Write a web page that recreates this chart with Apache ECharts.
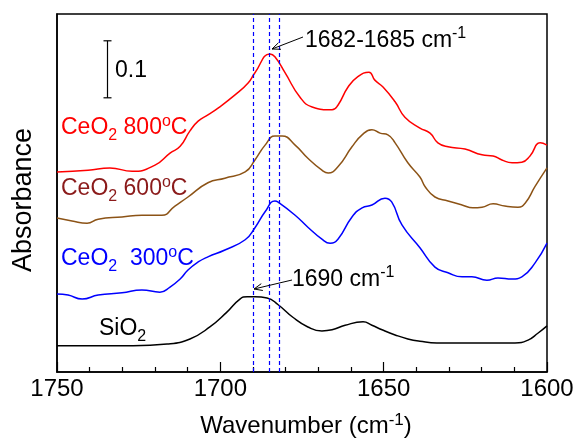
<!DOCTYPE html>
<html><head><meta charset="utf-8">
<script src="https://cdn.jsdelivr.net/npm/echarts@6/dist/echarts.min.js"></script>
<style>html,body{margin:0;padding:0;background:#fff}#c{width:582px;height:444px}</style>
</head><body><div id="c"></div>
<script>
// ---- data (wavenumber in cm-1, absorbance in a.u.) ----
const wn800 = [1750,1740.5,1733.8,1727,1720,1715.4,1712.3,1709.3,1706.8,1703.8,1700.7,1695.5,1691.5,1689.4,1684.8,1683.3,1680.2,1675.6,1671.9,1665.8,1664,1660.9,1657.9,1654.5,1652.7,1650.2,1646.5,1643.5,1638.9,1635.8,1633.4,1630.3,1625.1,1619.9,1616.5,1613.8,1610.7,1607.7,1605.2,1602.1,1600];
const ab800 = [0.351,0.354,0.358,0.352,0.363,0.384,0.396,0.423,0.440,0.451,0.463,0.486,0.507,0.525,0.558,0.553,0.525,0.482,0.465,0.46,0.468,0.5,0.518,0.526,0.512,0.5,0.474,0.447,0.428,0.419,0.402,0.395,0.391,0.381,0.379,0.372,0.367,0.368,0.379,0.402,0.398];
const wn600 = [1750,1745.4,1740.8,1737.4,1730.1,1724,1717.9,1713.9,1709.9,1703.8,1698.6,1692.4,1689.4,1686.3,1683.3,1681.1,1677.1,1673.2,1668.9,1667,1664,1659.7,1656.6,1653.6,1651.1,1648.7,1646.5,1642.6,1638.9,1637.3,1634.3,1630.3,1626,1622.7,1619.9,1616.5,1612.9,1608.9,1606.7,1603.7,1600];
const ab600 = [0.27,0.265,0.261,0.268,0.272,0.275,0.275,0.291,0.307,0.332,0.34,0.351,0.372,0.398,0.414,0.414,0.398,0.375,0.354,0.349,0.36,0.395,0.416,0.425,0.419,0.416,0.402,0.367,0.342,0.325,0.307,0.3,0.293,0.288,0.289,0.295,0.291,0.289,0.296,0.325,0.358];
const wn300 = [1750,1746.6,1742.3,1737.4,1730.1,1724,1718.5,1715.4,1712.3,1709.9,1706.8,1703.8,1698.6,1692.4,1689.4,1686.3,1683.3,1682.3,1677.1,1673.2,1668.9,1666.4,1664,1659.7,1656.6,1653.6,1649.6,1647.5,1644.4,1638.9,1634.3,1630.3,1626,1623,1618.4,1615,1610.7,1607.7,1603.7,1600];
const ab300 = [0.137,0.135,0.128,0.135,0.139,0.144,0.14,0.149,0.163,0.179,0.193,0.202,0.214,0.232,0.253,0.281,0.3,0.298,0.275,0.254,0.233,0.226,0.233,0.272,0.288,0.293,0.305,0.298,0.258,0.218,0.184,0.174,0.167,0.167,0.161,0.165,0.163,0.167,0.191,0.226];
const wnSi = [1750,1726.7,1716.3,1709.3,1703.2,1698,1694,1691.8,1689.4,1685.7,1682.3,1677.8,1673.2,1668.9,1665.8,1661.8,1656.3,1653.6,1650.5,1646.5,1642.6,1638.9,1633.7,1624.5,1614.4,1609.8,1605.8,1602.8,1600];
const abSi = [0.046,0.046,0.049,0.058,0.079,0.105,0.128,0.132,0.132,0.13,0.118,0.096,0.079,0.072,0.074,0.082,0.088,0.082,0.074,0.065,0.058,0.054,0.051,0.051,0.051,0.051,0.056,0.068,0.081];
const markedWn = [1690, 1685, 1682];
const xTicks = [1750, 1700, 1650, 1600];
const scaleBar = 0.1;

const FONT = '"Liberation Sans", Arial, Helvetica, sans-serif';
const zip = (a, b) => a.map((v, i) => [v, b[i]]);
const chart = echarts.init(document.getElementById('c'), null, {renderer: 'canvas'});

function line(name, x, y, color) {
  return {name, type: 'line', data: zip(x, y), smooth: 0.5, symbol: 'none',
    lineStyle: {color, width: 1.5}, z: 3};
}
const series = [
  line('CeO2 800', wn800, ab800, '#FF0000'),
  line('CeO2 600', wn600, ab600, '#8C5316'),
  line('CeO2 300', wn300, ab300, '#0000FF'),
  line('SiO2', wnSi, abSi, '#000000')
];
series[0].markLine = {silent: true, symbol: ['none', 'none'], label: {show: false},
  lineStyle: {color: '#0000FF', type: [4, 3], width: 1.2},
  data: markedWn.map(v => ({xAxis: v}))};

chart.setOption({
  animation: false,
  backgroundColor: '#fff',
  grid: {left: 57, right: 35, top: 14, bottom: 72, show: true, borderColor: '#000', borderWidth: 1.5},
  xAxis: {type: 'value', min: xTicks[3], max: xTicks[0], interval: 50, inverse: true,
    axisLine: {lineStyle: {color: '#000', width: 1.5}},
    axisTick: {inside: true, length: 10, lineStyle: {color: '#000', width: 1.2}},
    minorTick: {show: true, splitNumber: 5, length: 5, lineStyle: {color: '#000', width: 1.2}},
    splitLine: {show: false},
    axisLabel: {color: '#000', fontSize: 24, fontFamily: FONT, margin: 5, formatter: v => String(v)}},
  yAxis: {type: 'value', min: 0, max: 0.628,
    axisLine: {show: true, lineStyle: {color: '#000', width: 1.5}},
    axisTick: {show: false}, axisLabel: {show: false}, splitLine: {show: false}},
  series
});

const ctx = document.createElement('canvas').getContext('2d');
function tw(t, s) { ctx.font = s + 'px ' + FONT; return ctx.measureText(t).width; }
function txt(x, base, parts, color, align) {
  const total = parts.reduce((a, p) => a + tw(p[0], p[1]), 0);
  let cx = align === 'center' ? x - total / 2 : x;
  const els = [];
  parts.forEach(p => {
    els.push({type: 'text', silent: true, z: 10,
      style: {text: p[0], x: cx, y: base + p[2] - 0.35 * p[1], font: p[1] + 'px ' + FONT,
        fill: color, textAlign: 'left', textVerticalAlign: 'middle', verticalAlign: 'middle'}});
    cx += tw(p[0], p[1]);
  });
  return els;
}
function arrow(x1, y1, x2, y2) {
  const a = Math.atan2(y2 - y1, x2 - x1), L = 9, s = 0.4;
  return [
    {type: 'line', silent: true, z: 10, shape: {x1, y1, x2, y2}, style: {stroke: '#000', lineWidth: 1}},
    {type: 'polyline', silent: true, z: 10, shape: {points: [
      [x2 - L * Math.cos(a - s), y2 - L * Math.sin(a - s)], [x2, y2],
      [x2 - L * Math.cos(a + s), y2 - L * Math.sin(a + s)]]}, style: {stroke: '#000', lineWidth: 1, fill: null}}
  ];
}
const p0 = chart.convertToPixel({xAxisIndex: 0, yAxisIndex: 0}, [1734.7, 0.581]);
const p1 = chart.convertToPixel({xAxisIndex: 0, yAxisIndex: 0}, [1734.7, 0.581 - scaleBar]);
const bx = Math.round(p0[0]) + 0.5;

const g = [].concat(
  [{type: 'line', silent: true, z: 10, shape: {x1: bx, y1: p0[1], x2: bx, y2: p1[1]}, style: {stroke: '#000', lineWidth: 1.2}},
   {type: 'line', silent: true, z: 10, shape: {x1: bx - 4, y1: p0[1], x2: bx + 4, y2: p0[1]}, style: {stroke: '#000', lineWidth: 1.2}},
   {type: 'line', silent: true, z: 10, shape: {x1: bx - 4, y1: p1[1], x2: bx + 4, y2: p1[1]}, style: {stroke: '#000', lineWidth: 1.2}}],
  txt(115, 79, [['0.1', 23, 0]], '#000'),
  txt(61, 136, [['CeO', 23, 0], ['2', 16, 5], [' 800', 23, 0], ['o', 16, -9], ['C', 23, 0]], '#FF0000'),
  txt(61, 197, [['CeO', 23, 0], ['2', 16, 5], [' 600', 23, 0], ['o', 16, -9], ['C', 23, 0]], '#8B1A1A'),
  txt(61, 267, [['CeO', 23, 0], ['2', 16, 5], ['  300', 23, 0], ['o', 16, -9], ['C', 23, 0]], '#0000FF'),
  txt(99, 337, [['SiO', 23, 0], ['2', 16, 5]], '#000'),
  txt(305, 49, [['1682-1685 cm', 23, 0], ['-1', 16, -10]], '#000'),
  txt(292, 288, [['1690 cm', 23, 0], ['-1', 16, -10]], '#000'),
  txt(306, 435, [['Wavenumber (cm', 24, 0], ['-1', 17, -9], [')', 24, 0]], '#000', 'center'),
  arrow(303, 37, 272, 49),
  arrow(292, 280, 254, 289),
  [{type: 'text', silent: true, z: 10, x: 23.5, y: 200, rotation: Math.PI / 2,
    style: {text: 'Absorbance', x: 0, y: 0, font: '27px ' + FONT, fill: '#000',
      textAlign: 'center', textVerticalAlign: 'middle', verticalAlign: 'middle'}}]
);
chart.setOption({graphic: g});
</script></body></html>
